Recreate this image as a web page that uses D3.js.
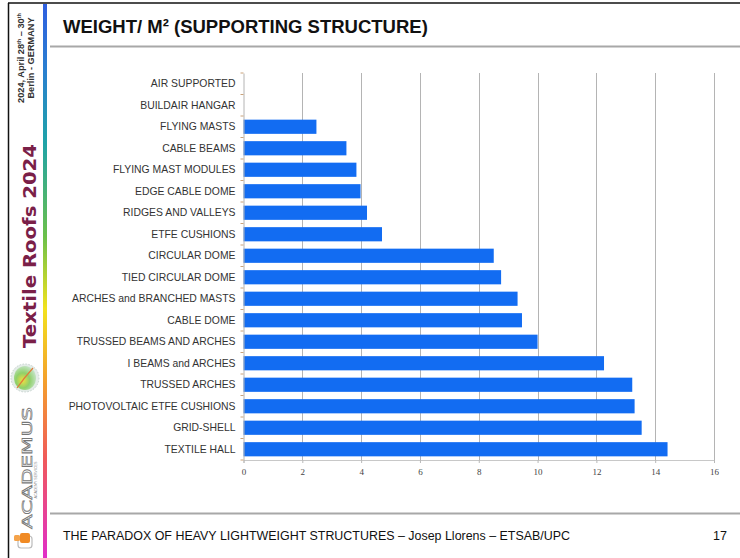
<!DOCTYPE html>
<html>
<head>
<meta charset="utf-8">
<script src="https://cdn.jsdelivr.net/npm/d3@7"></script>
<style>
  html, body { margin: 0; padding: 0; background: #fff; }
  svg { display: block; }
</style>
</head>
<body>
<svg id="chart" width="740" height="558"></svg>
<script>
const categories = [
  "AIR SUPPORTED", "BUILDAIR HANGAR", "FLYING MASTS", "CABLE BEAMS",
  "FLYING MAST MODULES", "EDGE CABLE DOME", "RIDGES AND VALLEYS", "ETFE CUSHIONS",
  "CIRCULAR DOME", "TIED CIRCULAR DOME", "ARCHES and BRANCHED MASTS", "CABLE DOME",
  "TRUSSED BEAMS AND ARCHES", "I BEAMS and ARCHES", "TRUSSED ARCHES",
  "PHOTOVOLTAIC ETFE CUSHIONS", "GRID-SHELL", "TEXTILE HALL"
];
const values = [
  0, 0, 2.48, 3.5,
  3.84, 3.98, 4.2, 4.71,
  8.51, 8.76, 9.32, 9.47,
  10.0, 12.26, 13.22,
  13.3, 13.54, 14.42
];
const xTicks = [0, 2, 4, 6, 8, 10, 12, 14, 16];
const titleText = "WEIGHT/ M² (SUPPORTING STRUCTURE)";
const footerText = "THE PARADOX OF HEAVY LIGHTWEIGHT STRUCTURES – Josep Llorens – ETSAB/UPC";
const pageNumber = "17";

const svg = d3.select("#chart");
const W = 740, H = 558;

// ---------- slide frame ----------
svg.append("line").attr("x1", 8).attr("x2", W).attr("y1", 3).attr("y2", 3)
  .attr("stroke", "#111").attr("stroke-width", 1.5);
svg.append("line").attr("x1", 8.5).attr("x2", 8.5).attr("y1", 3).attr("y2", H)
  .attr("stroke", "#111").attr("stroke-width", 1.5);

// gradient bar
const defs = svg.append("defs");
const grad = defs.append("linearGradient").attr("id", "sideGrad")
  .attr("x1", 0).attr("x2", 0).attr("y1", 0).attr("y2", 1);
[[0, "#2f5fe0"], [0.12, "#2a7fd0"], [0.25, "#1fa3a8"], [0.42, "#6cc04a"],
 [0.55, "#f2e21e"], [0.68, "#f4a02c"], [0.82, "#f05a5a"], [1, "#e02ec8"]]
  .forEach(([o, c]) => grad.append("stop").attr("offset", o).attr("stop-color", c));
svg.append("rect").attr("x", 43).attr("y", 4).attr("width", 4).attr("height", H - 4)
  .attr("fill", "url(#sideGrad)");

// title & rules
svg.append("text").attr("x", 63).attr("y", 33)
  .attr("font-family", "Liberation Sans, Arial, sans-serif")
  .attr("font-weight", "bold").attr("font-size", 18.5).attr("fill", "#111")
  .text(titleText);
svg.append("line").attr("x1", 50).attr("x2", W).attr("y1", 46.5).attr("y2", 46.5)
  .attr("stroke", "#a8a8a8").attr("stroke-width", 2);
svg.append("line").attr("x1", 50).attr("x2", W).attr("y1", 513.5).attr("y2", 513.5)
  .attr("stroke", "#a8a8a8").attr("stroke-width", 2);
svg.append("text").attr("x", 63).attr("y", 540)
  .attr("font-family", "Liberation Sans, Arial, sans-serif")
  .attr("font-size", 12.45).attr("fill", "#111").text(footerText);
svg.append("text").attr("x", 727).attr("y", 540).attr("text-anchor", "end")
  .attr("font-family", "Liberation Sans, Arial, sans-serif")
  .attr("font-size", 12.5).attr("fill", "#111").text(pageNumber);

// ---------- sidebar ----------
const side = svg.append("g");
const d1 = side.append("text")
  .attr("transform", "translate(24,58) rotate(-90)")
  .attr("text-anchor", "middle")
  .attr("font-family", "Liberation Sans, Arial, sans-serif")
  .attr("font-weight", "bold").attr("font-size", 9.2).attr("fill", "#333");
d1.append("tspan").text("2024, April 28");
d1.append("tspan").attr("font-size", 5.5).attr("dy", -3.5).text("th");
d1.append("tspan").attr("dy", 3.5).text(" – 30");
d1.append("tspan").attr("font-size", 5.5).attr("dy", -3.5).text("th");
side.append("text")
  .attr("transform", "translate(34,58) rotate(-90)")
  .attr("text-anchor", "middle")
  .attr("font-family", "Liberation Sans, Arial, sans-serif")
  .attr("font-weight", "bold").attr("font-size", 9.2).attr("fill", "#333")
  .text("Berlin - GERMANY");

side.append("text")
  .attr("transform", "translate(36,246) rotate(-90)")
  .attr("text-anchor", "middle")
  .attr("font-family", "DejaVu Sans, Verdana, sans-serif")
  .attr("font-weight", "bold").attr("font-size", 18).attr("fill", "#7a2048")
  .attr("textLength", 204).attr("lengthAdjust", "spacingAndGlyphs")
  .text("Textile Roofs 2024");

// leaf logo
const leaf = defs.append("radialGradient").attr("id", "leafGrad")
  .attr("cx", 0.4).attr("cy", 0.6).attr("r", 0.7);
[[0, "#f0e040"], [0.45, "#8fd06a"], [1, "#cfe8d8"]]
  .forEach(([o, c]) => leaf.append("stop").attr("offset", o).attr("stop-color", c));
side.append("circle").attr("cx", 25).attr("cy", 378).attr("r", 14)
  .attr("fill", "#e4ece8").attr("stroke", "#c8d4d0").attr("stroke-dasharray", "1.5,1.5");
side.append("ellipse").attr("cx", 25).attr("cy", 378).attr("rx", 11).attr("ry", 12)
  .attr("fill", "url(#leafGrad)");
side.append("path").attr("d", "M17,388 Q24,378 33,368").attr("stroke", "#e07a3a")
  .attr("stroke-width", 1.2).attr("fill", "none");

// ACADEMUS
side.append("text")
  .attr("transform", "translate(32,468) rotate(-90)")
  .attr("text-anchor", "middle")
  .attr("font-family", "DejaVu Sans, sans-serif")
  .attr("font-size", 14).attr("fill", "#fff").attr("stroke", "#777").attr("stroke-width", 0.7)
  .attr("textLength", 122).attr("lengthAdjust", "spacingAndGlyphs")
  .text("ACADEMUS");
side.append("text")
  .attr("transform", "translate(37,480) rotate(-90)")
  .attr("text-anchor", "middle")
  .attr("font-family", "Liberation Sans, Arial, sans-serif")
  .attr("font-size", 3.6).attr("fill", "#888")
  .text("ACADEMY SERVICES");

// orange logo
side.append("rect").attr("x", 18).attr("y", 536).attr("width", 14).attr("height", 12)
  .attr("rx", 3).attr("fill", "none").attr("stroke", "#bbb").attr("stroke-width", 1.2);
side.append("rect").attr("x", 20).attr("y", 533).attr("width", 10).attr("height", 10)
  .attr("rx", 2).attr("fill", "#f08a24");
side.append("rect").attr("x", 14).attr("y", 535).attr("width", 6).attr("height", 6)
  .attr("rx", 1.5).attr("fill", "#f5a34a");

// ---------- chart ----------
const x = d3.scaleLinear().domain([0, 16]).range([243.5, 714]);
const y = d3.scaleBand().domain(categories).range([73, 460]).paddingInner(0.34).paddingOuter(0.17);

const plot = svg.append("g");

// gridlines
plot.append("g").selectAll("line").data(xTicks.slice(1)).join("line")
  .attr("x1", d => Math.round(x(d)) + 0.5).attr("x2", d => Math.round(x(d)) + 0.5)
  .attr("y1", 73).attr("y2", 460)
  .attr("stroke", "#b4b4b4").attr("stroke-width", 1);

// bars
plot.append("g").selectAll("rect").data(categories).join("rect")
  .attr("x", x(0))
  .attr("y", (d) => y(d))
  .attr("width", (d, i) => Math.max(0, x(values[i]) - x(0)))
  .attr("height", y.bandwidth())
  .attr("fill", "#126cf2");

// x axis
const xAxis = d3.axisBottom(x).tickValues(xTicks).tickSize(3).tickPadding(6)
  .tickFormat(d3.format("d"));
const gx = plot.append("g").attr("transform", "translate(0,460)").call(xAxis);
gx.select(".domain").attr("stroke", "#c8c8c8");
gx.selectAll(".tick line").attr("stroke", "#b8b8b8");
gx.selectAll(".tick text")
  .attr("font-family", "Liberation Serif, Times New Roman, serif")
  .attr("font-size", 9).attr("fill", "#444");

// y axis (labels only, custom ticks at band boundaries)
const yAxis = d3.axisLeft(y).tickSize(0).tickPadding(8);
const gy = plot.append("g").attr("transform", "translate(243.5,0)").call(yAxis);
gy.select(".domain").attr("stroke", "#b4b4b4");
gy.selectAll(".tick text")
  .attr("font-family", "Liberation Sans, Arial, sans-serif")
  .attr("font-size", 10.4).attr("fill", "#333");
const boundaries = d3.range(categories.length + 1).map(i => 73 + i * (387 / categories.length));
plot.append("g").selectAll("line").data(boundaries).join("line")
  .attr("x1", 240.5).attr("x2", 243.5)
  .attr("y1", d => d).attr("y2", d => d)
  .attr("stroke", "#c9a27a").attr("stroke-width", 1);
</script>
</body>
</html>
